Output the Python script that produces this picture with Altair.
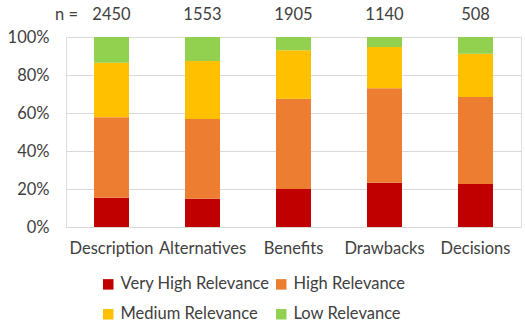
import altair as alt
import pandas as pd

categories = ["Description", "Alternatives", "Benefits", "Drawbacks", "Decisions"]
n_values = [2450, 1553, 1905, 1140, 508]
levels = ["Very High Relevance", "High Relevance", "Medium Relevance", "Low Relevance"]
very_high = [15.4, 14.9, 20.0, 23.3, 22.6]
high = [42.3, 41.9, 47.5, 49.7, 45.8]
medium = [28.8, 30.6, 25.5, 21.7, 22.8]
low = [13.5, 12.6, 7.0, 5.3, 8.8]
colors = ["#C00000", "#ED7D31", "#FFC000", "#92D050"]

rows = []
for lvl_i, (lvl, vals) in enumerate(zip(levels, [very_high, high, medium, low])):
    for c, v in zip(categories, vals):
        rows.append({"category": c, "level": lvl, "order": lvl_i, "value": v / 100})
df = pd.DataFrame(rows)
ndf = pd.DataFrame({"category": categories, "n": [str(v) for v in n_values]})
lbl = pd.DataFrame({"t": ["n ="]})

FONT = "Lato"
TXT = "#404040"
FS = 16.5

xscale = alt.Scale(domain=categories, paddingInner=0, paddingOuter=0)

bars = alt.Chart(df).mark_bar(size=35).encode(
    x=alt.X("category:N", scale=xscale, sort=categories,
            axis=alt.Axis(title=None, labelAngle=0, domain=False, ticks=False,
                          labelPadding=13, labelFontSize=FS, labelColor=TXT, labelFont=FONT)),
    y=alt.Y("value:Q", stack="zero", scale=alt.Scale(domain=[0, 1]),
            axis=alt.Axis(title=None, format="%", values=[0, 0.2, 0.4, 0.6, 0.8, 1.0],
                          domain=False, ticks=False, labelPadding=17, labelFontSize=FS,
                          labelColor=TXT, labelFont=FONT, gridColor="#D9D9D9")),
    color=alt.Color("level:N", scale=alt.Scale(domain=levels, range=colors),
                    legend=alt.Legend(title=None, orient="none", legendX=34, legendY=239,
                                      direction="horizontal",
                                      columns=2, symbolType="square", symbolSize=110,
                                      symbolStrokeWidth=0, labelFontSize=FS, labelFont=FONT,
                                      labelColor=TXT, rowPadding=13, columnPadding=3,
                                      padding=0, labelLimit=300)),
    order=alt.Order("order:Q"),
)

ntext = alt.Chart(ndf).mark_text(fontSize=FS, font=FONT, color=TXT, baseline="middle").encode(
    x=alt.X("category:N", scale=xscale, sort=categories),
    y=alt.value(-22),
    text="n:N",
)

ntitle = alt.Chart(lbl).mark_text(fontSize=FS, font=FONT, color=TXT, baseline="middle", align="right").encode(
    x=alt.value(12),
    y=alt.value(-22),
    text="t:N",
)

chart = alt.layer(bars, ntext, ntitle).properties(
    width=455, height=190,
    autosize=alt.AutoSizeParams(type="none"),
    padding={"left": 66, "top": 37, "right": 4, "bottom": 100},
).configure_view(stroke=None).configure(background="white")

chart.save("out.html", embed_options={"renderer": "svg", "actions": False})
